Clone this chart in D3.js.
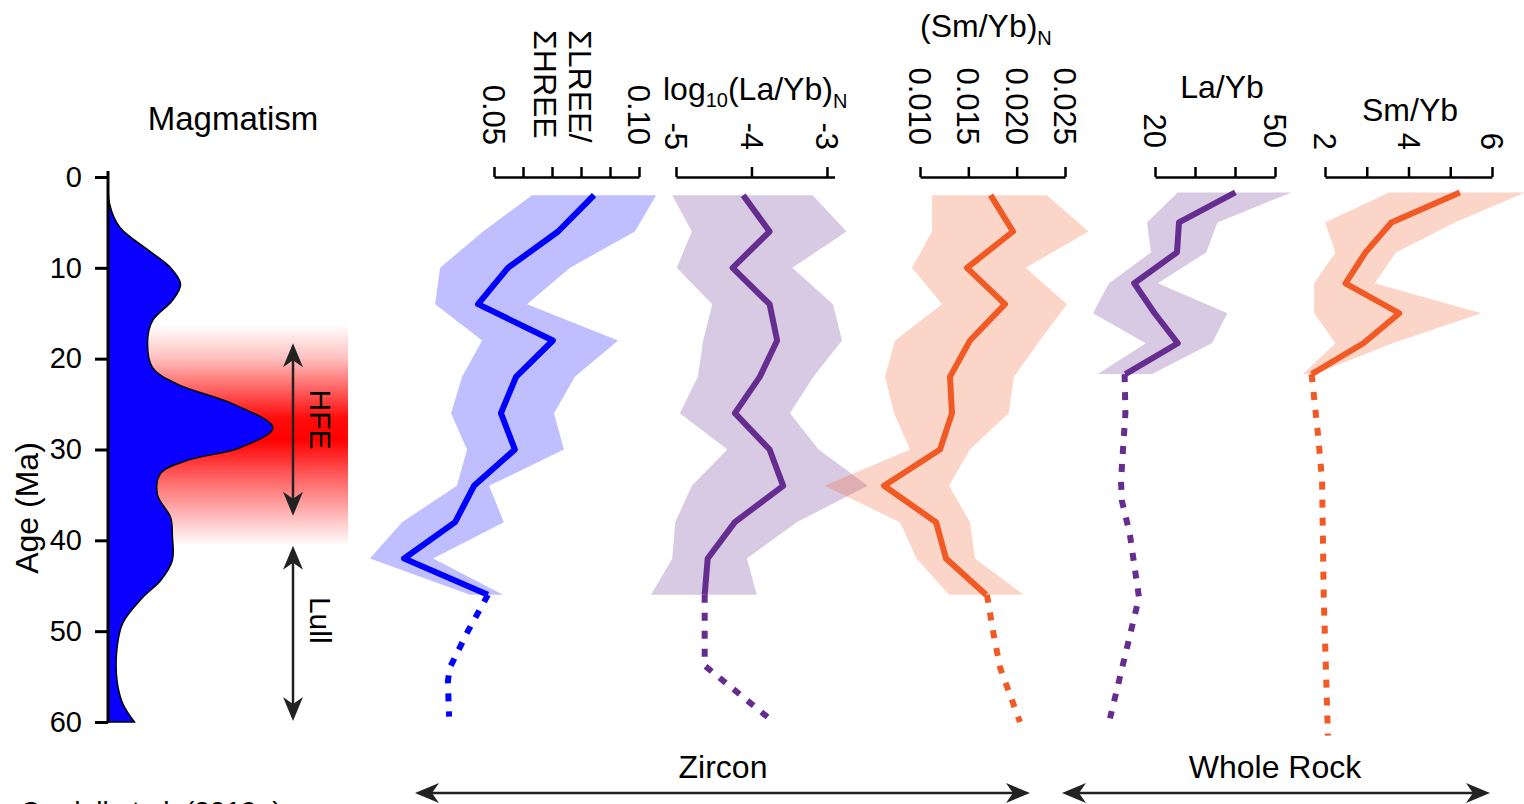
<!DOCTYPE html>
<html>
<head>
<meta charset="utf-8">
<script src="https://cdn.jsdelivr.net/npm/d3@7/dist/d3.min.js"></script>
<style>
  body { margin: 0; background: #fff; }
  svg { display: block; font-family: "Liberation Sans", Arial, sans-serif; }
</style>
</head>
<body>
<svg id="chart" width="1524" height="804"></svg>
<script>
// ---- data (ages in Ma) ----
var zirconAges = [2, 6, 10, 14, 18, 22, 26, 30, 34, 38, 42, 46];
var rockAges = [1.7, 5, 8.3, 11.7, 15, 18.3, 21.7];

// zircon sum LREE / sum HREE
var reeMid  = [0.0845, 0.0721, 0.0548, 0.0445, 0.0703, 0.0576, 0.0524, 0.0572, 0.0431, 0.0366, 0.0190, 0.0479];
var reeLow  = [0.0631, 0.0462, 0.0314, 0.0297, 0.0459, 0.0390, 0.0352, 0.0407, 0.0372, 0.0183, 0.0072, 0.0417];
var reeHigh = [0.1059, 0.0986, 0.0762, 0.0614, 0.0928, 0.0779, 0.0707, 0.0741, 0.0483, 0.0534, 0.0290, 0.0531];
var reeDotAges = [46, 50, 54, 55.5, 59.4];
var reeDot     = [0.0479, 0.0410, 0.0348, 0.0341, 0.0345];

// zircon log10(La/Yb)N
var lgMid  = [-4.11, -3.76, -4.25, -3.76, -3.66, -3.89, -4.22, -3.76, -3.58, -4.22, -4.58, -4.62];
var lgLow  = [-5.05, -4.79, -4.99, -4.52, -4.64, -4.71, -4.95, -4.32, -4.79, -5.01, -5.05, -5.33];
var lgHigh = [-3.19, -2.74, -3.46, -2.92, -2.80, -3.18, -3.49, -3.11, -2.46, -3.40, -4.06, -3.93];
var lgDotAges = [46, 53.8, 59.5];
var lgDot     = [-4.62, -4.62, -3.78];

// zircon (Sm/Yb)N
var smnMid  = [0.01730, 0.01962, 0.01486, 0.01879, 0.01517, 0.01310, 0.01331, 0.01207, 0.00628, 0.01166, 0.01269, 0.01683];
var smnLow  = [0.01124, 0.01124, 0.00917, 0.01228, 0.00741, 0.00638, 0.00731, 0.00897, 0.00012, 0.00793, 0.00964, 0.01300];
var smnHigh = [0.02314, 0.02743, 0.02093, 0.02521, 0.02241, 0.01972, 0.01917, 0.01517, 0.01300, 0.01517, 0.01569, 0.02076];
var smnDotAges = [46, 50, 54, 57, 60];
var smnDot     = [0.01693, 0.01755, 0.01828, 0.01931, 0.02034];

// whole rock La/Yb
var laMid  = [40.1, 26.0, 25.5, 14.8, 19.9, 25.7, 12.6];
var laLow  = [25.7, 18.0, 19.0, 8.5, 4.5, 17.7, 5.7];
var laHigh = [54.1, 35.6, 32.8, 20.7, 38.1, 34.2, 19.3];
var laDotAges = [21.7, 26, 33.4, 35.6, 39.3, 46.3, 59.6];
var laDot     = [12.4, 12.6, 11.5, 11.7, 13.7, 16.0, 8.75];

// whole rock Sm/Yb
var smMid  = [5.23, 3.59, 2.97, 2.49, 3.78, 2.92, 1.68];
var smLow  = [3.53, 2.00, 2.25, 1.74, 1.74, 2.25, 1.47];
var smHigh = [6.80, 5.11, 3.70, 3.19, 5.74, 3.62, 1.76];
var smDotAges = [21.7, 28.7, 33.4, 46.3, 61.5];
var smDot     = [1.68, 1.84, 1.93, 1.97, 2.07];

// magmatism density (relative)
var magAges    = [0, 3, 5.5, 8, 10, 11.8, 13.6, 15.8, 18, 21, 22.8, 25, 27.6, 29.8, 31.2, 32.6, 35, 37.5, 39.5, 42.2, 44.4, 46.3, 49.1, 51.8, 55.5, 58, 60];
var magDensity = [0, 0.01, 0.07, 0.24, 0.38, 0.44, 0.39, 0.27, 0.24, 0.27, 0.42, 0.76, 1, 0.8, 0.48, 0.32, 0.30, 0.38, 0.39, 0.39, 0.32, 0.21, 0.09, 0.055, 0.055, 0.09, 0.16];

var ageTicks = [0, 10, 20, 30, 40, 50, 60];
var hfeBand = [16.3, 40.6];
var hfeSpan = [18.3, 37.3];
var lullSpan = [40.6, 59.9];

var blue = "#0000ff", purple = "#662d91", orange = "#f15a24";

var svg = d3.select("#chart");
var y = d3.scaleLinear().domain([0, 60]).range([177, 722]);
var axisY = 177;

function zip(ages, a, b, c) {
  return ages.map(function(age, i) { return {age: age, v: a[i], lo: b ? b[i] : null, hi: c ? c[i] : null}; });
}

function panel(x, ages, mid, low, high, dotAges, dot, color) {
  var rows = zip(ages, mid, low, high);
  var band = d3.area()
    .y(function(d) { return y(d.age); })
    .x0(function(d) { return x(d.lo); })
    .x1(function(d) { return x(d.hi); });
  svg.append("path").attr("d", band(rows))
    .attr("fill", color).attr("fill-opacity", 0.25);

  var line = d3.line()
    .x(function(d) { return x(d.v); })
    .y(function(d) { return y(d.age); });
  svg.append("path").attr("d", line(rows))
    .attr("fill", "none").attr("stroke", color)
    .attr("stroke-width", 6).attr("stroke-linejoin", "round");

  svg.append("path").attr("d", line(zip(dotAges, dot)))
    .attr("fill", "none").attr("stroke", color)
    .attr("stroke-width", 6).attr("stroke-dasharray", "8,10");
}

function topAxis(x, ticks, labels, fmt, endY) {
  var g = svg.append("g").attr("transform", "translate(0," + axisY + ")")
    .call(d3.axisTop(x).tickValues(ticks).tickSize(10).tickSizeOuter(0).tickFormat(""));
  g.select(".domain").attr("stroke-width", 2.5);
  g.selectAll(".tick line").attr("stroke-width", 2.5);
  svg.selectAll(null).data(labels).enter().append("text")
    .attr("transform", function(d) { return "translate(" + x(d) + "," + endY + ") rotate(90)"; })
    .attr("text-anchor", "end").attr("dy", "0.35em")
    .attr("font-size", 31)
    .text(fmt);
}

function arrowHead(px, py, angle) {
  svg.append("path")
    .attr("d", "M0,0 L-24,-10 L-17,0 L-24,10 Z")
    .attr("transform", "translate(" + px + "," + py + ") rotate(" + angle + ")")
    .attr("fill", "#222");
}

function vArrow(x, span) {
  svg.append("line").attr("x1", x).attr("x2", x)
    .attr("y1", y(span[0]) + 8).attr("y2", y(span[1]) - 8)
    .attr("stroke", "#222").attr("stroke-width", 2.5);
  arrowHead(x, y(span[0]), -90);
  arrowHead(x, y(span[1]), 90);
}

function hArrow(x1, x2, yy) {
  svg.append("line").attr("x1", x1 + 8).attr("x2", x2 - 8)
    .attr("y1", yy).attr("y2", yy)
    .attr("stroke", "#222").attr("stroke-width", 2.5);
  arrowHead(x1, yy, 180);
  arrowHead(x2, yy, 0);
}

// ---- magmatism panel ----
var defs = svg.append("defs");
var grad = defs.append("linearGradient").attr("id", "hfe")
  .attr("x1", 0).attr("x2", 0).attr("y1", 0).attr("y2", 1);
[[0, 0], [0.15, 0.25], [0.42, 0.95], [0.52, 1], [0.7, 0.6], [1, 0]].forEach(function(s) {
  grad.append("stop").attr("offset", s[0]).attr("stop-color", "#ff0000").attr("stop-opacity", s[1]);
});
svg.append("rect")
  .attr("x", 108).attr("width", 240)
  .attr("y", y(hfeBand[0])).attr("height", y(hfeBand[1]) - y(hfeBand[0]))
  .attr("fill", "url(#hfe)");

var magX = d3.scaleLinear().domain([0, 1]).range([108, 273]);
var magArea = d3.area()
  .curve(d3.curveCatmullRom.alpha(0.5))
  .y(function(d, i) { return y(magAges[i]); })
  .x0(magX(0))
  .x1(function(d) { return magX(d); });
svg.append("path").attr("d", magArea(magDensity))
  .attr("fill", "#0a00ff").attr("stroke", "#000").attr("stroke-width", 1.5);

var ageAxis = svg.append("g").attr("transform", "translate(108,0)")
  .call(d3.axisLeft(y).tickValues(ageTicks).tickSize(13).tickSizeOuter(0).tickPadding(13));
ageAxis.select(".domain").attr("stroke-width", 3).attr("d", "M0,171V723");
ageAxis.selectAll(".tick line").attr("stroke-width", 3);
ageAxis.selectAll(".tick text").attr("font-size", 29).attr("font-family", "Liberation Sans, Arial, sans-serif").attr("fill", "#000");

svg.append("text").attr("transform", "translate(38,508) rotate(-90)")
  .attr("text-anchor", "middle").attr("font-size", 32).text("Age (Ma)");
svg.append("text").attr("x", 233).attr("y", 130)
  .attr("text-anchor", "middle").attr("font-size", 33).text("Magmatism");

vArrow(293, hfeSpan);
vArrow(293, lullSpan);
svg.append("text").attr("transform", "translate(320," + y(26.7) + ") rotate(90)")
  .attr("text-anchor", "middle").attr("dy", "0.35em").attr("font-size", 30).text("HFE");
svg.append("text").attr("transform", "translate(320," + y(48.8) + ") rotate(90)")
  .attr("text-anchor", "middle").attr("dy", "0.35em").attr("font-size", 30).text("Lull");

// ---- geochemistry panels ----
var xRee = d3.scaleLinear().domain([0.05, 0.10]).range([494, 639]);
var xLg  = d3.scaleLinear().domain([-5, -2.9]).range([676, 834.5]);
var xSmn = d3.scaleLinear().domain([0.010, 0.025]).range([920, 1065]);
var xLa  = d3.scaleLinear().domain([20, 50]).range([1155, 1275]);
var xSm  = d3.scaleLinear().domain([2, 6]).range([1325, 1492]);

panel(xRee, zirconAges, reeMid, reeLow, reeHigh, reeDotAges, reeDot, blue);
panel(xLg, zirconAges, lgMid, lgLow, lgHigh, lgDotAges, lgDot, purple);
panel(xSmn, zirconAges, smnMid, smnLow, smnHigh, smnDotAges, smnDot, orange);
panel(xLa, rockAges, laMid, laLow, laHigh, laDotAges, laDot, purple);
panel(xSm, rockAges, smMid, smLow, smHigh, smDotAges, smDot, orange);

topAxis(xRee, [0.05, 0.06, 0.07, 0.08, 0.09, 0.10], [0.05, 0.10], d3.format(".2f"), 145);
topAxis(xLg, [-5, -4, -3], [-5, -4, -3], function(d) { return String(d); }, 150);
topAxis(xSmn, [0.010, 0.015, 0.020, 0.025], [0.010, 0.015, 0.020, 0.025], d3.format(".3f"), 145);
topAxis(xLa, [20, 30, 40, 50], [20, 50], function(d) { return String(d); }, 148);
topAxis(xSm, [2, 3, 4, 5, 6], [2, 4, 6], function(d) { return String(d); }, 150);

// axis titles
[["\u03A3LREE/", 580], ["\u03A3HREE", 545]].forEach(function(t) {
  svg.append("text").attr("transform", "translate(" + t[1] + ",30) rotate(90)")
    .attr("dy", "0.35em").attr("font-size", 32).text(t[0]);
});

var lgTitle = svg.append("text").attr("x", 663).attr("y", 100).attr("font-size", 32);
lgTitle.append("tspan").text("log");
lgTitle.append("tspan").attr("font-size", 20).attr("dy", 7).text("10");
lgTitle.append("tspan").attr("dy", -7).text("(La/Yb)");
lgTitle.append("tspan").attr("font-size", 20).attr("dy", 8).text("N");

var smnTitle = svg.append("text").attr("x", 920).attr("y", 37).attr("font-size", 32);
smnTitle.append("tspan").text("(Sm/Yb)");
smnTitle.append("tspan").attr("font-size", 20).attr("dy", 8).text("N");

svg.append("text").attr("x", 1222).attr("y", 98).attr("text-anchor", "middle")
  .attr("font-size", 32).text("La/Yb");
svg.append("text").attr("x", 1410).attr("y", 121).attr("text-anchor", "middle")
  .attr("font-size", 32).text("Sm/Yb");

// ---- bottom groupings ----
svg.append("text").attr("x", 723).attr("y", 778).attr("text-anchor", "middle")
  .attr("font-size", 32).text("Zircon");
svg.append("text").attr("x", 1275).attr("y", 778).attr("text-anchor", "middle")
  .attr("font-size", 32).text("Whole Rock");
hArrow(415, 1030, 793);
hArrow(1062, 1490, 793);

// source note, cut by the bottom edge as in the original figure
svg.append("text").attr("x", 20).attr("y", 821).attr("font-size", 28).text("Cordell et al. (2019a)");
</script>
</body>
</html>
